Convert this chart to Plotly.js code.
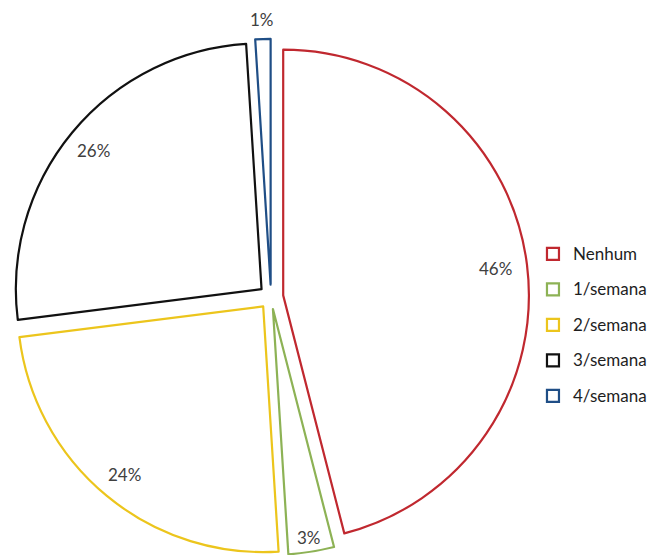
<!DOCTYPE html>
<html>
<head>
<meta charset="utf-8">
<script src="https://cdn.plot.ly/plotly-3.0.1.min.js"></script>
<style>
  html, body { margin: 0; padding: 0; background: #ffffff; }
  #chart { width: 651px; height: 555px; }
</style>
</head>
<body>
<div id="chart"></div>
<script>
// Weekly frequency categories and their shares (%)
const categories = ['Nenhum', '1/semana', '2/semana', '3/semana', '4/semana'];
const shares = [46, 3, 24, 26, 1];
const outlineColors = ['#c0282f', '#8db255', '#ecc51c', '#111111', '#1f4e86'];

// Distance of each percentage label from its slice tip, as a fraction of the radius
const labelRadius = [0.87, 0.94, 0.887, 0.887, 1.08];

const FONT = 'Lato, "Open Sans", sans-serif';
const W = 651, H = 555;

// Legend rows are spaced out by a large legend font; the visible text is set smaller
const legendLabels = categories.map(c => '<span style="font-size:17px;baseline-shift:4px">' + c + '</span>');

const trace = {
  type: 'pie',
  labels: legendLabels,
  values: shares,
  sort: false,
  direction: 'clockwise',
  rotation: 0,
  pull: categories.map(() => 0.05),
  marker: {
    colors: categories.map(() => '#ffffff'),
    line: { color: outlineColors, width: 2.2 }
  },
  textinfo: 'none',
  domain: { x: [0.02, 0.8126], y: [0, 0.93] },
  hoverinfo: 'label+percent',
  automargin: false
};

const layout = {
  width: W,
  height: H,
  margin: { l: 0, r: 0, t: 0, b: 0, autoexpand: false },
  paper_bgcolor: '#ffffff',
  showlegend: true,
  legend: {
    x: 0.8187,
    xanchor: 'left',
    y: 0.5836,
    yanchor: 'top',
    font: { family: FONT, size: 25, color: '#1e1e1e' },
    bgcolor: 'rgba(0,0,0,0)'
  }
};

Plotly.newPlot('chart', [trace], layout, { displayModeBar: false, staticPlot: true }).then(gd => {
  // Percentage labels placed along each slice's bisector, using the pie's own geometry
  const cd = gd.calcdata[0];
  const cd0 = cd[0];
  const total = shares.reduce((a, b) => a + b, 0);
  const annotations = cd.map((pt, i) => {
    const pull = trace.pull[i];
    const tipX = cd0.cx + pull * pt.pxmid[0];
    const tipY = cd0.cy + pull * pt.pxmid[1];
    const px = tipX + labelRadius[i] * pt.pxmid[0];
    const py = tipY + labelRadius[i] * pt.pxmid[1];
    return {
      xref: 'paper', yref: 'paper',
      x: px / W, y: 1 - py / H,
      xanchor: 'center', yanchor: 'middle',
      text: Math.round(shares[i] / total * 100) + '%',
      showarrow: false,
      font: { family: FONT, size: 17, color: '#404040' }
    };
  });
  return Plotly.relayout(gd, { annotations: annotations });
});
</script>
</body>
</html>
